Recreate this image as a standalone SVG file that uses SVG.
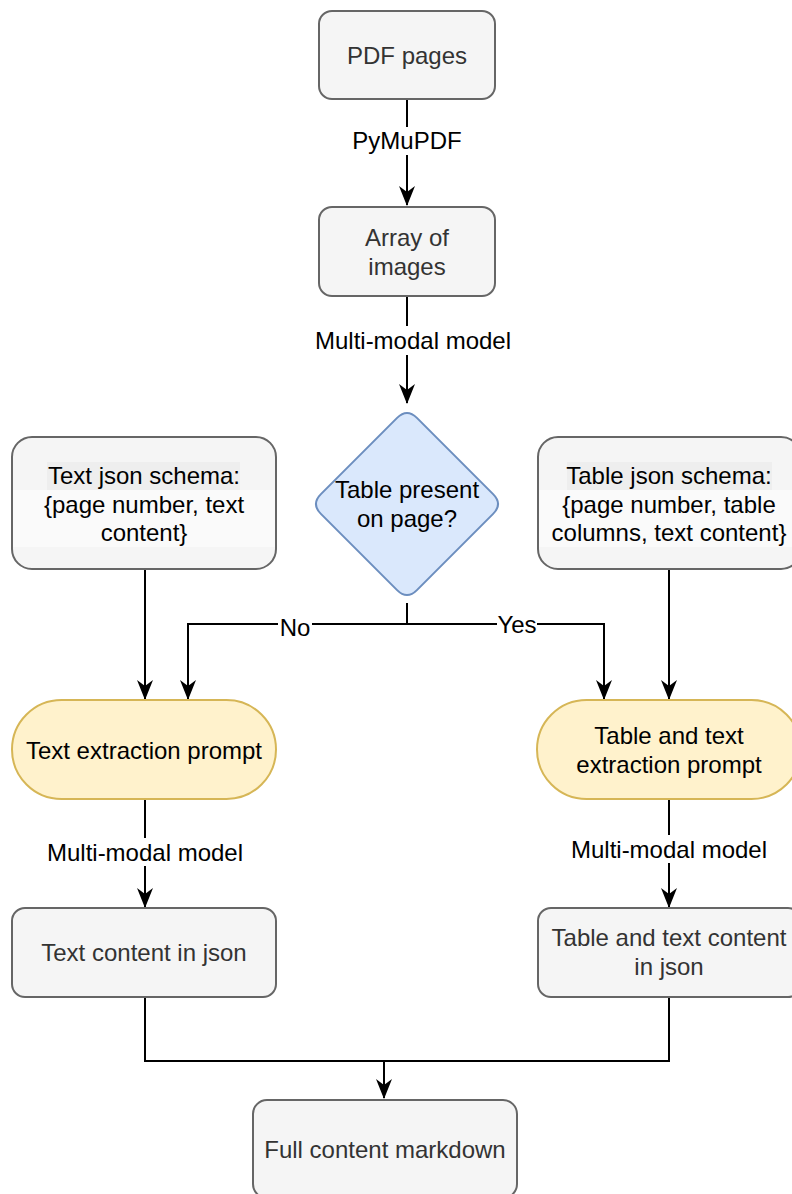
<svg xmlns="http://www.w3.org/2000/svg" width="792" height="1194" viewBox="0 0 792 1194">
<style>
  .gbox { fill: #f5f5f5; stroke: #666666; stroke-width: 2; }
  .ybox { fill: #fff2cc; stroke: #d6b656; stroke-width: 2; }
  .dia { fill: #dae8fc; stroke: #6c8ebf; stroke-width: 2; }
  text { font-family: "Liberation Sans", Arial, Helvetica, sans-serif; font-size: 24px; text-anchor: middle; }
  .gt { fill: #333333; }
  .bt { fill: #000000; }
  .edge { fill: none; stroke: #000000; stroke-width: 2; }
  .lbg { fill: #ffffff; }
</style>
<defs>
  <marker id="arr" markerUnits="userSpaceOnUse" markerWidth="20" markerHeight="18" viewBox="0 0 20 18" refX="19" refY="9" orient="auto">
    <path d="M0,1 L20,9 L0,17 L6,9 Z" fill="#000000"/>
  </marker>
</defs>

<g id="edges">
  <path class="edge" d="M407,99 L407,205" marker-end="url(#arr)"/>
  <path class="edge" d="M407,296 L407,403" marker-end="url(#arr)"/>
  <path class="edge" d="M407,603 L407,624 L188,624 L188,699" marker-end="url(#arr)"/>
  <path class="edge" d="M407,624 L604,624 L604,699" marker-end="url(#arr)"/>
  <path class="edge" d="M145,569 L145,699" marker-end="url(#arr)"/>
  <path class="edge" d="M669,569 L669,699" marker-end="url(#arr)"/>
  <path class="edge" d="M145,799 L145,907" marker-end="url(#arr)"/>
  <path class="edge" d="M669,799 L669,907" marker-end="url(#arr)"/>
  <path class="edge" d="M145,997 L145,1061 L384,1061 L384,1098" marker-end="url(#arr)"/>
  <path class="edge" d="M669,997 L669,1061 L384,1061"/>
  <g id="edge-labels">
    <rect class="lbg" x="355" y="127" width="111" height="28"/>
    <text class="bt" x="407" y="148.5">PyMuPDF</text>
    <rect class="lbg" x="312" y="326" width="202" height="29"/>
    <text class="bt" x="413" y="348.5">Multi-modal model</text>
    <rect class="lbg" x="278" y="612" width="34" height="28"/>
    <text class="bt" x="295" y="635.5">No</text>
    <rect class="lbg" x="497" y="611" width="40" height="28"/>
    <text class="bt" x="517" y="633">Yes</text>
    <rect class="lbg" x="46" y="838" width="198" height="28"/>
    <text class="bt" x="145" y="860.5">Multi-modal model</text>
    <rect class="lbg" x="570" y="835" width="198" height="28"/>
    <text class="bt" x="669" y="857.5">Multi-modal model</text>
  </g>
</g>

<g id="pdf-pages">
  <rect class="gbox" x="319" y="11" width="176" height="88" rx="13"/>
  <text class="gt" x="407" y="63.5">PDF pages</text>
</g>

<g id="array-of-images">
  <rect class="gbox" x="319" y="207" width="176" height="89" rx="13"/>
  <text class="gt" x="407" y="245.5">Array of</text>
  <text class="gt" x="407" y="274.5">images</text>
</g>

<g id="table-present">
  <path class="dia" d="M416.9,417.9 L493.1,494.1 Q503,504 493.1,513.9 L416.9,590.1 Q407,600 397.1,590.1 L320.9,513.9 Q311,504 320.9,494.1 L397.1,417.9 Q407,408 416.9,417.9 Z"/>
  <text class="bt" x="407" y="498">Table present</text>
  <text class="bt" x="407" y="527">on page?</text>
</g>

<g id="text-schema">
  <rect class="gbox" x="12" y="437" width="264" height="132" rx="20"/>
  <rect x="47" y="462" width="193" height="28" fill="#eeeeee"/>
  <rect x="13" y="490" width="262" height="57" fill="#fafafa"/>
  <text class="bt" x="144" y="484">Text json schema:</text>
  <text class="bt" x="144" y="513">{page number, text</text>
  <text class="bt" x="144" y="541">content}</text>
</g>

<g id="table-schema">
  <rect class="gbox" x="538" y="437" width="263" height="132" rx="20"/>
  <rect x="567" y="462" width="205" height="28" fill="#eeeeee"/>
  <rect x="539" y="490" width="261" height="57" fill="#fafafa"/>
  <text class="bt" x="669" y="484">Table json schema:</text>
  <text class="bt" x="669" y="513">{page number, table</text>
  <text class="bt" x="669" y="541">columns, text content}</text>
</g>

<g id="text-prompt">
  <rect class="ybox" x="12" y="700" width="264" height="99" rx="49.5"/>
  <text class="bt" x="144" y="758.5">Text extraction prompt</text>
</g>

<g id="table-prompt">
  <rect class="ybox" x="537" y="700" width="264" height="99" rx="49.5"/>
  <text class="bt" x="669" y="744">Table and text</text>
  <text class="bt" x="669" y="773">extraction prompt</text>
</g>

<g id="text-content">
  <rect class="gbox" x="12" y="908" width="264" height="89" rx="13"/>
  <text class="gt" x="144" y="960.5">Text content in json</text>
</g>

<g id="table-content">
  <rect class="gbox" x="538" y="908" width="263" height="89" rx="13"/>
  <text class="gt" x="669" y="946">Table and text content</text>
  <text class="gt" x="669" y="975">in json</text>
</g>

<g id="full-markdown">
  <rect class="gbox" x="253" y="1100" width="264" height="98" rx="14"/>
  <text class="gt" x="385" y="1157.5">Full content markdown</text>
</g>
</svg>
